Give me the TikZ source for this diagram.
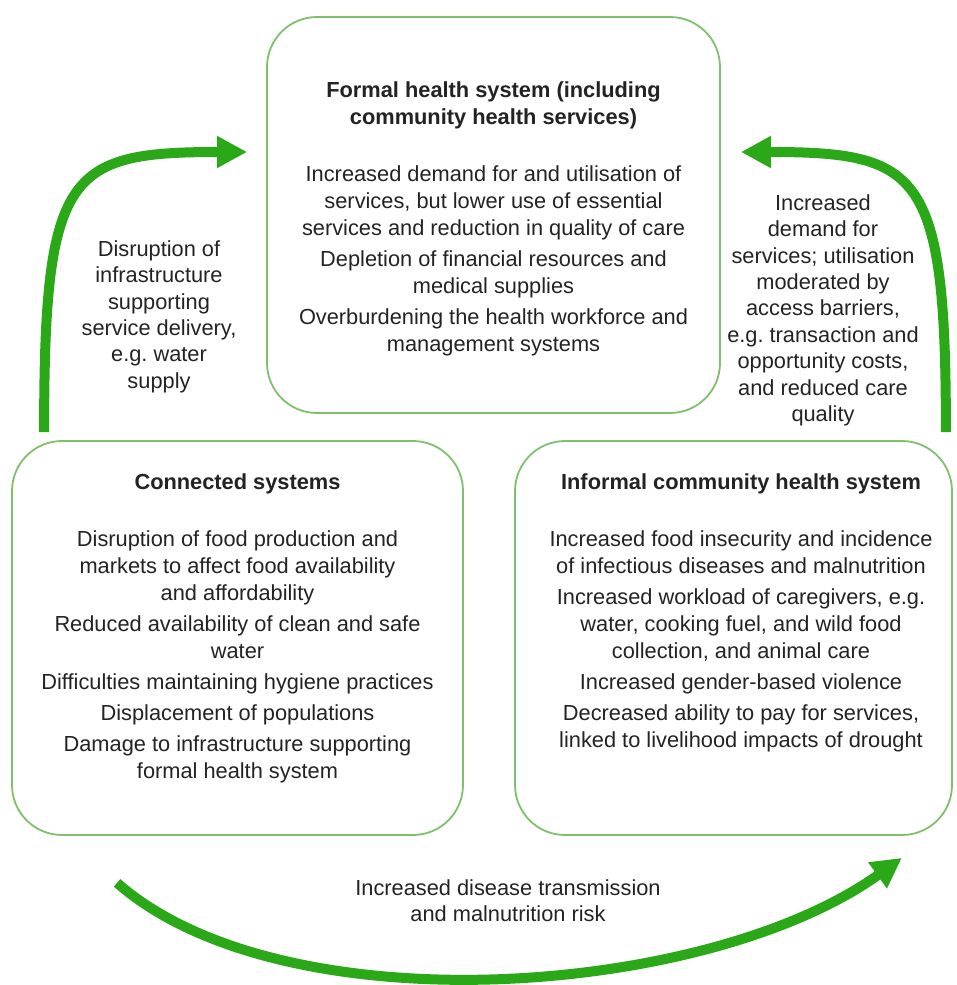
\documentclass[tikz,border=0pt]{standalone}
\usepackage{fontspec}
\setmainfont{Liberation Sans}
\usepackage{xcolor}
\usetikzlibrary{positioning, arrows.meta}

\definecolor{framegreen}{RGB}{128,192,108}
\definecolor{flowgreen}{RGB}{42,168,24}
\definecolor{textgrey}{RGB}{35,35,35}

\begin{document}
\begin{tikzpicture}[
  x=0.5pt, y=-0.5pt,
  font=\fontsize{10.9}{13.5}\selectfont,
  sysbox/.style={draw=framegreen, line width=0.9pt, rounded corners=25pt,
    fill=white},
  systext/.style={align=center, inner sep=0pt, text=textgrey},
  flowtext/.style={align=center, inner sep=0pt, text=textgrey,
    font=\fontsize{10.9}{13.2}\selectfont},
  flow/.style={-{Triangle[length=15pt, width=15pt]}, line width=5pt,
    flowgreen},
]
  \useasboundingbox (0,0) rectangle (957,985);

  % the three systems
  \node[sysbox, minimum width=226.5pt, minimum height=198pt] (fhs) at (493.5,215) {};
  \node[sysbox, minimum width=225.5pt, minimum height=197pt] (csys) at (237.5,638) {};
  \node[sysbox, minimum width=218.5pt, minimum height=197pt] (ichs) at (733.5,638) {};

  \node[systext, below=32.5pt of fhs.north] (fhs-txt)
    {\bfseries Formal health system (including\\
     \bfseries community health services)\\[15pt]
     Increased demand for and utilisation of\\
     services, but lower use of essential\\
     services and reduction in quality of care\\[2pt]
     Depletion of financial resources and\\
     medical supplies\\[2pt]
     Overburdening the health workforce and\\
     management systems};

  \node[systext, below=16.5pt of csys.north] (csys-txt)
    {\bfseries Connected systems\\[15pt]
     Disruption of food production and\\
     markets to affect food availability\\
     and affordability\\[2pt]
     Reduced availability of clean and safe\\
     water\\[2pt]
     Difficulties maintaining hygiene practices\\[2pt]
     Displacement of populations\\[2pt]
     Damage to infrastructure supporting\\
     formal health system};

  \node[systext, below=16.5pt of ichs.north, xshift=3.75pt] (ichs-txt)
    {\bfseries Informal community health system\\[15pt]
     Increased food insecurity and incidence\\
     of infectious diseases and malnutrition\\[2pt]
     Increased workload of caregivers, e.g.\\
     water, cooking fuel, and wild food\\
     collection, and animal care\\[2pt]
     Increased gender-based violence\\[2pt]
     Decreased ability to pay for services,\\
     linked to livelihood impacts of drought};

  % feedback arrows
  \draw[flow] ([shift={(33,-8)}]csys.north west)
    .. controls +(0,-260) and +(-180,0) .. ([shift={(-19,-63)}]fhs.west);
  \draw[flow] ([shift={(-7,-8)}]ichs.north east)
    .. controls +(0,-260) and +(180,0) .. ([shift={(20,-63)}]fhs.east);
  \draw[flow] ([shift={(106,47)}]csys.south west)
    .. controls +(165,145) and +(-195,140) .. ([shift={(-51,22)}]ichs.south east);

  \node[flowtext, anchor=north] (infra-lbl) at (159,240)
    {Disruption of\\ infrastructure\\ supporting\\ service delivery,\\
     e.g.\ water\\ supply};
  \node[flowtext, anchor=north] (demand-lbl) at (823,194)
    {Increased\\ demand for\\ services; utilisation\\ moderated by\\
     access barriers,\\ e.g.\ transaction and\\ opportunity costs,\\
     and reduced care\\ quality};
  \node[flowtext, anchor=north] (disease-lbl) at (508,879)
    {Increased disease transmission\\ and malnutrition risk};
\end{tikzpicture}
\end{document}
